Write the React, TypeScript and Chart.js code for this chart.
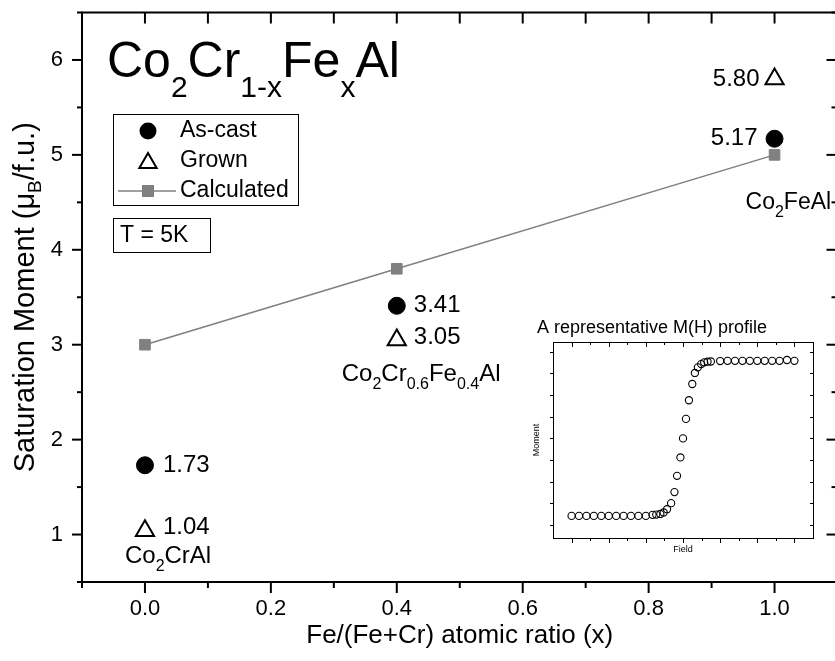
import React, { useEffect, useRef } from "react";
import { Chart, registerables } from "chart.js";
Chart.register(...registerables);

// ---------- data ----------
const compositions = [0, 0.4, 1.0];
const asCast = [1.73, 3.41, 5.17];
const grown = [1.04, 3.05, 5.8];
const calculated = [3.0, 3.8, 5.0];
const xTickValues = [0, 0.2, 0.4, 0.6, 0.8, 1.0];
const xTickLabels = ["0.0", "0.2", "0.4", "0.6", "0.8", "1.0"];
const yTickValues = [1, 2, 3, 4, 5, 6];
const yTickLabels = ["1", "2", "3", "4", "5", "6"];

const insetField = [
  -30, -28, -26, -24, -22, -20, -18, -16, -14, -12, -10,
  -8.2, -7.2, -6.1, -5.2, -4.3, -3.2, -2.3, -1.6, -0.7, 0,
  0.8, 1.6, 2.5, 3.2, 4.0, 4.9, 5.7, 6.6, 7.5,
  10, 12, 14, 16, 18, 20, 22, 24, 26, 28, 30,
];
const insetMoment = [
  -3.58, -3.58, -3.58, -3.58, -3.58, -3.58, -3.58, -3.58, -3.58, -3.58, -3.58,
  -3.53, -3.52, -3.49, -3.42, -3.27, -2.99, -2.48, -1.73, -0.88, 0.0,
  0.9, 1.76, 2.51, 3.02, 3.28, 3.43, 3.51, 3.54, 3.55,
  3.57, 3.58, 3.58, 3.58, 3.58, 3.58, 3.58, 3.58, 3.58, 3.62, 3.58,
];

const FONT = '"Liberation Sans", Arial, Helvetica, sans-serif';
const GRAY = "#808080";

type Part = [string, number, number]; // text, size, dy

function richWidth(ctx: CanvasRenderingContext2D, parts: Part[]) {
  let w = 0;
  for (const [t, s] of parts) {
    ctx.font = `${s}px ${FONT}`;
    w += ctx.measureText(t).width;
  }
  return w;
}

function drawRich(
  ctx: CanvasRenderingContext2D,
  x: number,
  y: number,
  parts: Part[],
  align: "left" | "center" | "right" = "left"
) {
  const w = richWidth(ctx, parts);
  let cx = align === "left" ? x : align === "center" ? x - w / 2 : x - w;
  ctx.textAlign = "left";
  ctx.textBaseline = "alphabetic";
  for (const [t, s, dy] of parts) {
    ctx.font = `${s}px ${FONT}`;
    ctx.fillText(t, cx, y + dy);
    cx += ctx.measureText(t).width;
  }
}

function tri(ctx: CanvasRenderingContext2D, x: number, y: number, r: number) {
  const s = Math.sin((2 * Math.PI) / 3) * r;
  ctx.beginPath();
  ctx.moveTo(x, y - r);
  ctx.lineTo(x + s, y + r / 2);
  ctx.lineTo(x - s, y + r / 2);
  ctx.closePath();
  ctx.stroke();
}

function seg(ctx: CanvasRenderingContext2D, x1: number, y1: number, x2: number, y2: number) {
  ctx.beginPath();
  ctx.moveTo(x1, y1);
  ctx.lineTo(x2, y2);
  ctx.stroke();
}

const mainPlugin = {
  id: "mainDecor",
  afterDraw(chart: any) {
    const { ctx, chartArea: a } = chart;
    const xs = chart.scales.x;
    const ys = chart.scales.y;
    ctx.save();
    ctx.strokeStyle = "#000";
    ctx.fillStyle = "#000";
    ctx.lineWidth = 2;
    ctx.strokeRect(a.left, a.top, a.right - a.left, a.bottom - a.top);

    // x ticks (every 0.1)
    for (let i = -1; i <= 11; i++) {
      const px = xs.getPixelForValue(i / 10);
      const major = i % 2 === 0;
      seg(ctx, px, a.bottom, px, a.bottom + (major ? 11 : 6));
      seg(ctx, px, a.top, px, a.top + 11);
    }
    // y ticks (every 0.5)
    for (let i = 1; i <= 13; i++) {
      const v = i / 2;
      const py = ys.getPixelForValue(v);
      const major = i % 2 === 0;
      seg(ctx, a.left, py, a.left - (major ? 10 : 5), py);
      seg(ctx, a.right, py, a.right - (major ? 11 : 6), py);
    }

    // tick labels
    ctx.font = `22px ${FONT}`;
    ctx.textAlign = "center";
    ctx.textBaseline = "middle";
    xTickValues.forEach((v, i) => {
      ctx.fillText(xTickLabels[i], xs.getPixelForValue(v), 609);
    });
    ctx.textAlign = "right";
    yTickValues.forEach((v, i) => {
      ctx.fillText(yTickLabels[i], 63, ys.getPixelForValue(v));
    });

    // axis titles
    ctx.font = `26px ${FONT}`;
    ctx.textAlign = "center";
    ctx.textBaseline = "middle";
    ctx.fillText("Fe/(Fe+Cr) atomic ratio (x)", (a.left + a.right) / 2, 636);

    ctx.save();
    ctx.translate(34, (a.top + a.bottom) / 2);
    ctx.rotate(-Math.PI / 2);
    drawRich(
      ctx,
      0,
      0,
      [
        ["Saturation Moment (\u03bc", 29, 0],
        ["B", 19, 7],
        ["/f.u.)", 29, 0],
      ],
      "center"
    );
    ctx.restore();

    // title
    drawRich(ctx, 107, 77, [
      ["Co", 50, 0],
      ["2", 30, 20],
      ["Cr", 50, 0],
      ["1-x", 30, 20],
      ["Fe", 50, 0],
      ["x", 30, 20],
      ["Al", 50, 0],
    ]);

    // legend box
    ctx.lineWidth = 1;
    ctx.strokeRect(113.5, 114.5, 185, 91);
    ctx.beginPath();
    ctx.arc(148, 131, 8.5, 0, Math.PI * 2);
    ctx.fill();
    ctx.lineWidth = 2;
    tri(ctx, 148, 163, 10);
    ctx.strokeStyle = GRAY;
    ctx.lineWidth = 1.5;
    seg(ctx, 118, 191, 176, 191);
    ctx.fillStyle = GRAY;
    ctx.fillRect(142, 185, 12, 12);
    ctx.fillStyle = "#000";
    ctx.strokeStyle = "#000";
    ctx.font = `23px ${FONT}`;
    ctx.textAlign = "left";
    ctx.textBaseline = "middle";
    ctx.fillText("As-cast", 180, 131);
    ctx.fillText("Grown", 180, 161);
    ctx.fillText("Calculated", 180, 191);

    // T = 5K box
    ctx.lineWidth = 1;
    ctx.strokeRect(113.5, 218.5, 97, 34);
    ctx.fillText("T = 5K", 120, 236);

    // point annotations
    const p0 = xs.getPixelForValue(compositions[0]);
    const p1 = xs.getPixelForValue(compositions[1]);
    const p2 = xs.getPixelForValue(compositions[2]);
    ctx.font = `24px ${FONT}`;
    ctx.textBaseline = "middle";
    ctx.textAlign = "left";
    ctx.fillText(asCast[0].toFixed(2), p0 + 18, ys.getPixelForValue(asCast[0]));
    ctx.fillText(grown[0].toFixed(2), p0 + 18, ys.getPixelForValue(grown[0]) - 3);
    ctx.fillText(asCast[1].toFixed(2), p1 + 17, ys.getPixelForValue(asCast[1]));
    ctx.fillText(grown[1].toFixed(2), p1 + 17, ys.getPixelForValue(grown[1]) - 3);
    ctx.textAlign = "right";
    ctx.fillText(grown[2].toFixed(2), p2 - 15, ys.getPixelForValue(grown[2]));
    ctx.fillText(asCast[2].toFixed(2), p2 - 17, ys.getPixelForValue(asCast[2]));

    drawRich(ctx, p0 - 20, 563, [
      ["Co", 24, 0],
      ["2", 16, 8],
      ["CrAl", 24, 0],
    ]);
    drawRich(ctx, p1 - 55, 381, [
      ["Co", 24, 0],
      ["2", 16, 8],
      ["Cr", 24, 0],
      ["0.6", 16, 8],
      ["Fe", 24, 0],
      ["0.4", 16, 8],
      ["Al", 24, 0],
    ]);
    drawRich(ctx, p2 - 29, 209, [
      ["Co", 23, 0],
      ["2", 16, 8],
      ["FeAl", 23, 0],
    ]);
    ctx.restore();
  },
};

const insetPlugin = {
  id: "insetDecor",
  afterDraw(chart: any) {
    const { ctx, chartArea: a } = chart;
    const xs = chart.scales.x;
    const ys = chart.scales.y;
    ctx.save();
    ctx.strokeStyle = "#000";
    ctx.fillStyle = "#000";
    ctx.lineWidth = 1;
    ctx.strokeRect(a.left + 0.5, a.top + 0.5, a.right - a.left, a.bottom - a.top);
    for (let v = -30; v <= 30; v += 5) {
      const px = Math.round(xs.getPixelForValue(v)) + 0.5;
      const major = v % 10 === 0;
      seg(ctx, px, a.bottom, px, a.bottom + (major ? 5 : 3));
      seg(ctx, px, a.top, px, a.top + (major ? 5 : 3));
    }
    for (let v = -4; v <= 4; v += 1) {
      const py = Math.round(ys.getPixelForValue(v)) + 0.5;
      seg(ctx, a.left, py, a.left - 3, py);
      seg(ctx, a.right, py, a.right - 3, py);
    }
    ctx.font = `18px ${FONT}`;
    ctx.textAlign = "left";
    ctx.textBaseline = "alphabetic";
    ctx.fillText("A representative M(H) profile", 12, 23);
    ctx.font = `9px ${FONT}`;
    ctx.textAlign = "center";
    ctx.textBaseline = "middle";
    ctx.fillText("Field", (a.left + a.right) / 2, a.bottom + 12);
    ctx.save();
    ctx.translate(12, (a.top + a.bottom) / 2);
    ctx.rotate(-Math.PI / 2);
    ctx.fillText("Moment", 0, 0);
    ctx.restore();
    ctx.restore();
  },
};

export default function App() {
  const mainRef = useRef<HTMLCanvasElement>(null);
  const insetRef = useRef<HTMLCanvasElement>(null);

  useEffect(() => {
    const main = new Chart(mainRef.current as HTMLCanvasElement, {
      type: "scatter",
      data: {
        datasets: [
          {
            type: "line",
            label: "Calculated",
            data: compositions.map((x, i) => ({ x, y: calculated[i] })),
            borderColor: GRAY,
            borderWidth: 1.5,
            backgroundColor: GRAY,
            pointBackgroundColor: GRAY,
            pointBorderColor: GRAY,
            pointBorderWidth: 1,
            pointStyle: "rect",
            pointRadius: 7.5,
            tension: 0,
            fill: false,
          } as any,
          {
            label: "As-cast",
            data: compositions.map((x, i) => ({ x, y: asCast[i] })),
            pointStyle: "circle",
            pointRadius: 8.5,
            backgroundColor: "#000",
            borderColor: "#000",
            borderWidth: 1,
          },
          {
            label: "Grown",
            data: compositions.map((x, i) => ({ x, y: grown[i] })),
            pointStyle: "triangle",
            pointRadius: 10.5,
            backgroundColor: "rgba(0,0,0,0)",
            borderColor: "#000",
            borderWidth: 2,
          },
        ],
      },
      options: {
        animation: false,
        responsive: false,
        devicePixelRatio: 1,
        layout: { padding: { left: 82, top: 5, right: 10, bottom: 79 } },
        plugins: { legend: { display: false }, tooltip: { enabled: false } },
        events: [],
        scales: {
          x: { type: "linear", min: -0.1, max: 1.1, display: false },
          y: { type: "linear", min: 0.5, max: 6.5, display: false },
        },
      },
      plugins: [mainPlugin],
    });

    const inset = new Chart(insetRef.current as HTMLCanvasElement, {
      type: "scatter",
      data: {
        datasets: [
          {
            label: "M(H)",
            data: insetField.map((x, i) => ({ x, y: insetMoment[i] })),
            pointStyle: "circle",
            pointRadius: 3.6,
            backgroundColor: "rgba(255,255,255,0)",
            borderColor: "#000",
            borderWidth: 1.1,
          },
        ],
      },
      options: {
        animation: false,
        responsive: false,
        devicePixelRatio: 1,
        layout: { padding: { left: 28, top: 32, right: 12, bottom: 22 } },
        plugins: { legend: { display: false }, tooltip: { enabled: false } },
        events: [],
        scales: {
          x: { type: "linear", min: -35, max: 35, display: false },
          y: { type: "linear", min: -4.6, max: 4.45, display: false },
        },
      },
      plugins: [insetPlugin],
    });

    return () => {
      main.destroy();
      inset.destroy();
    };
  }, []);

  return (
    <div
      style={{
        position: "fixed",
        left: 0,
        top: 0,
        width: 835,
        height: 661,
        overflow: "hidden",
        background: "#fff",
      }}
    >
      <canvas
        ref={mainRef}
        width={850}
        height={661}
        style={{ position: "absolute", left: 0, top: 0, width: 850, height: 661 }}
      />
      <canvas
        ref={insetRef}
        width={300}
        height={250}
        style={{ position: "absolute", left: 525, top: 310, width: 300, height: 250 }}
      />
    </div>
  );
}
